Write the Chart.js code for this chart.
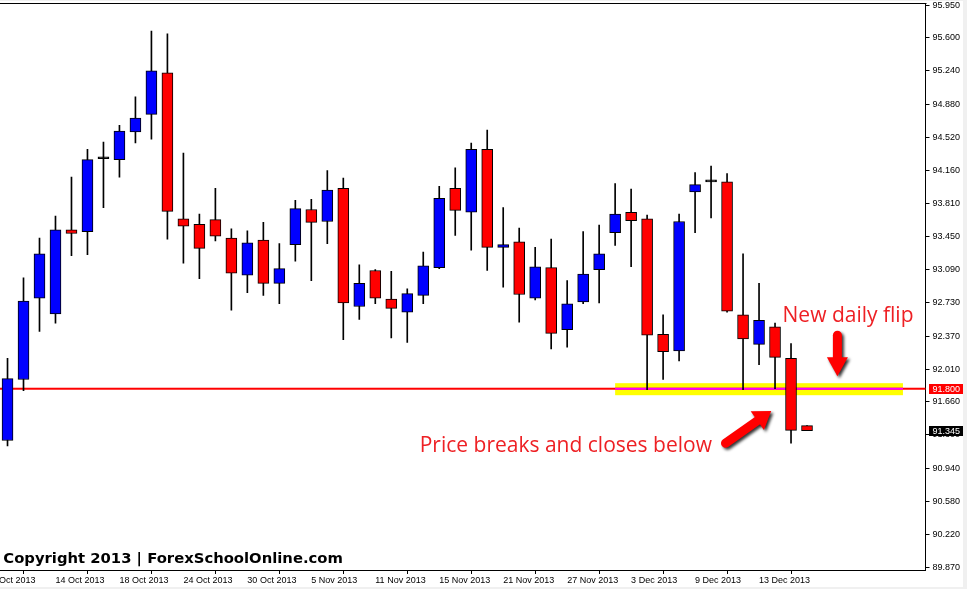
<!DOCTYPE html>
<html>
<head>
<meta charset="utf-8">
<script src="https://cdn.jsdelivr.net/npm/chart.js@4/dist/chart.umd.min.js"></script>
<style>
html,body{margin:0;padding:0;background:#fff;overflow:hidden}
canvas{display:block}
</style>
</head>
<body>
<canvas id="c" width="967" height="589"></canvas>
<script>
// ---- data ----
const dates = ['9 Oct 2013','10 Oct 2013','11 Oct 2013','14 Oct 2013','15 Oct 2013','16 Oct 2013','17 Oct 2013','18 Oct 2013','21 Oct 2013','22 Oct 2013','23 Oct 2013','24 Oct 2013','25 Oct 2013','28 Oct 2013','29 Oct 2013','30 Oct 2013','31 Oct 2013','1 Nov 2013','4 Nov 2013','5 Nov 2013','6 Nov 2013','7 Nov 2013','8 Nov 2013','11 Nov 2013','12 Nov 2013','13 Nov 2013','14 Nov 2013','15 Nov 2013','18 Nov 2013','19 Nov 2013','20 Nov 2013','21 Nov 2013','22 Nov 2013','25 Nov 2013','26 Nov 2013','27 Nov 2013','28 Nov 2013','29 Nov 2013','2 Dec 2013','3 Dec 2013','4 Dec 2013','5 Dec 2013','6 Dec 2013','9 Dec 2013','10 Dec 2013','11 Dec 2013','12 Dec 2013','13 Dec 2013','16 Dec 2013','17 Dec 2013','18 Dec 2013'];
const open  = [91.24,91.90,92.78,92.61,93.52,93.50,94.30,94.28,94.58,94.77,95.22,93.64,93.58,93.63,93.43,93.03,93.41,92.94,93.36,93.74,93.61,93.97,92.69,93.08,92.77,92.63,92.81,93.11,93.97,93.71,94.39,93.33,93.39,92.78,93.11,92.44,92.74,93.09,93.49,93.71,93.64,92.39,92.21,93.93,94.05,94.04,92.60,92.28,92.47,92.13,91.40];
const high  = [92.13,93.00,93.43,93.67,94.09,94.39,94.47,94.65,94.96,95.67,95.64,94.35,93.69,93.97,93.53,93.51,93.60,93.37,93.84,93.85,94.16,94.08,93.14,93.09,93.07,92.88,93.28,93.99,94.19,94.46,94.60,93.76,93.54,93.33,93.42,92.97,93.50,93.57,94.02,93.96,93.68,92.60,93.69,94.14,94.21,94.13,93.26,92.94,92.51,92.29,91.40];
const low   = [91.18,91.78,92.42,92.51,93.24,93.25,93.76,94.09,94.46,94.50,93.42,93.16,92.99,93.40,92.65,92.84,92.81,92.72,93.18,92.97,93.37,92.33,92.55,92.72,92.35,92.30,92.72,93.10,93.46,93.30,93.08,92.90,92.52,92.76,92.23,92.25,92.72,92.73,93.35,93.12,91.79,91.90,92.10,93.49,93.65,92.63,91.79,92.06,91.80,91.21,91.345];
const close = [91.91,92.75,93.26,93.52,93.48,94.28,94.30,94.59,94.73,95.24,93.72,93.56,93.32,93.45,93.05,93.38,92.94,93.10,93.75,93.60,93.95,92.73,92.94,92.78,92.67,92.83,93.13,93.86,93.73,94.39,93.33,93.36,92.82,93.12,92.40,92.72,93.04,93.26,93.69,93.62,92.38,92.20,93.61,94.01,94.05,92.64,92.34,92.54,92.14,91.35,91.345];
const xTickLabels = ['8 Oct 2013','14 Oct 2013','18 Oct 2013','24 Oct 2013','30 Oct 2013','5 Nov 2013','11 Nov 2013','15 Nov 2013','21 Nov 2013','27 Nov 2013','3 Dec 2013','9 Dec 2013','13 Dec 2013'];
const yTickValues = [95.950,95.600,95.240,94.880,94.520,94.160,93.810,93.450,93.090,92.730,92.370,92.010,91.660,91.300,90.940,90.580,90.220,89.870];
const levelPrice = 91.800;
const lastPrice = 91.345;

// ---- annotations (in bar / price units) ----
const zone = {fromBar: 38, toBar: 56, low: 91.73, high: 91.86};
const flipText = {bar: 48.47, price: 92.52, text: 'New daily flip'};
const breakText = {bar: 25.78, price: 91.112, text: 'Price breaks and closes below'};
const downArrow = {from: {bar: 51.9, price: 92.38}, to: {bar: 51.9, price: 91.935}};
const diagArrow = {from: {bar: 44.9, price: 91.21}, to: {bar: 47.76, price: 91.56}};
const copyright = 'Copyright 2013 | ForexSchoolOnline.com';

// ---- styles ----
const UP = '#0000ff', DOWN = '#ff0000', DOJI = '#000000';
const TXT_RED = '#ee2024';
const AXIS_FONT = {family: 'Liberation Sans', size: 9};

const xTickIdx = xTickLabels.map(l => dates.indexOf(l));   // -1 = day before first bar

function bodyRange(i) {
  const o = open[i], c = close[i];
  if (Math.abs(c - o) < 0.012) { const m = (o + c) / 2; return [m - 0.011, m + 0.011]; }
  return [o, c];
}
function bodyColor(i) {
  const d = close[i] - open[i];
  if (Math.abs(d) < 0.012) return DOJI;
  return d > 0 ? UP : DOWN;
}

const bodies = dates.map((d, i) => ({x: i, y: bodyRange(i)}));
const wicks = dates.map((d, i) => ({x: i, y: [low[i], high[i]]}));

function drawArrow(ctx, x1, y1, x2, y2, shaft, headW, headL) {
  const dx = x2 - x1, dy = y2 - y1, len = Math.hypot(dx, dy);
  const ux = dx / len, uy = dy / len, px = -uy, py = ux;
  const bx = x2 - ux * headL, by = y2 - uy * headL;
  ctx.beginPath();
  ctx.lineWidth = shaft; ctx.lineCap = 'round';
  ctx.moveTo(x1, y1); ctx.lineTo(bx + ux * 2, by + uy * 2); ctx.stroke();
  ctx.beginPath();
  ctx.moveTo(x2, y2);
  ctx.lineTo(bx + px * headW / 2, by + py * headW / 2);
  ctx.lineTo(bx - px * headW / 2, by - py * headW / 2);
  ctx.closePath(); ctx.fill();
}

const deco = {
  id: 'deco',
  beforeDraw(chart) {
    const ctx = chart.ctx, W = chart.width, H = chart.height;
    ctx.save();
    ctx.fillStyle = '#ffffff'; ctx.fillRect(0, 0, W, H);
    ctx.fillStyle = '#f0f0f0';
    ctx.fillRect(0, 0, W, 1);
    ctx.fillRect(W - 4, 0, 4, H);
    ctx.fillRect(0, H - 2, W, 2);
    ctx.restore();
  },
  beforeDatasetsDraw(chart) {
    const ctx = chart.ctx, xs = chart.scales.x, ys = chart.scales.y, a = chart.chartArea;
    ctx.save();
    const zx1 = xs.getPixelForValue(zone.fromBar), zx2 = xs.getPixelForValue(zone.toBar);
    const zy1 = ys.getPixelForValue(zone.high), zy2 = ys.getPixelForValue(zone.low);
    ctx.fillStyle = '#ffff00';
    ctx.fillRect(zx1, zy1, zx2 - zx1, zy2 - zy1);
    const ly = ys.getPixelForValue(levelPrice);
    ctx.fillStyle = '#ff0000';
    ctx.fillRect(a.left, ly - 1, a.right - a.left, 2);
    ctx.fillStyle = '#ff00ff';
    ctx.fillRect(zx1, ly - 1, zx2 - zx1, 2);
    ctx.restore();
  },
  afterDraw(chart) {
    const ctx = chart.ctx, xs = chart.scales.x, ys = chart.scales.y, a = chart.chartArea;
    ctx.save();
    // top border
    ctx.fillStyle = '#000';
    ctx.fillRect(a.left, a.top, a.right - a.left + 1, 1);
    // price boxes
    ctx.font = '9px "Liberation Sans"';
    ctx.textBaseline = 'middle'; ctx.textAlign = 'left';
    const bx = a.right + 3.5;
    const y1 = ys.getPixelForValue(levelPrice);
    ctx.fillStyle = '#ff0000'; ctx.fillRect(bx, Math.round(y1) - 5, 34, 10);
    ctx.fillStyle = '#fff'; ctx.fillText(levelPrice.toFixed(3), a.right + 7, y1 + 0.5);
    const y2 = ys.getPixelForValue(lastPrice);
    ctx.fillStyle = '#000'; ctx.fillRect(bx, Math.round(y2) - 5, 34, 10);
    ctx.fillStyle = '#fff'; ctx.fillText(lastPrice.toFixed(3), a.right + 7, y2 + 0.5);
    // annotation texts
    ctx.textBaseline = 'alphabetic';
    ctx.font = '21px "Open Sans"';
    ctx.fillStyle = TXT_RED;
    ctx.fillText(flipText.text, xs.getPixelForValue(flipText.bar), ys.getPixelForValue(flipText.price));
    ctx.fillText(breakText.text, xs.getPixelForValue(breakText.bar), ys.getPixelForValue(breakText.price));
    // arrows
    const arrows = [
      [downArrow, 9, 21, 19],
      [diagArrow, 9, 23, 17]
    ];
    arrows.forEach(([ar, sw, hw, hl]) => {
      const x1 = xs.getPixelForValue(ar.from.bar), y1a = ys.getPixelForValue(ar.from.price);
      const x2 = xs.getPixelForValue(ar.to.bar), y2a = ys.getPixelForValue(ar.to.price);
      ctx.save();
      ctx.translate(2, 2);
      ctx.filter = 'blur(1.5px)';
      ctx.globalAlpha = 0.8;
      ctx.fillStyle = '#000'; ctx.strokeStyle = '#000';
      drawArrow(ctx, x1, y1a, x2, y2a, sw, hw, hl);
      ctx.restore();
      ctx.save();
      ctx.fillStyle = '#ff0000'; ctx.strokeStyle = '#ff0000';
      drawArrow(ctx, x1, y1a, x2, y2a, sw, hw, hl);
      ctx.restore();
    });
    // copyright
    ctx.font = 'bold 14.8px "DejaVu Sans"';
    ctx.fillStyle = '#000';
    ctx.fillText(copyright, a.left + 3.3, a.bottom - 7.3);
    ctx.restore();
  }
};

new Chart(document.getElementById('c'), {
  type: 'bar',
  data: {
    datasets: [
      {
        label: 'body',
        data: bodies,
        backgroundColor: dates.map((d, i) => bodyColor(i)),
        borderColor: '#000',
        borderWidth: 1,
        borderSkipped: false,
        barThickness: 11,
        maxBarThickness: 11,
        grouped: false
      },
      {
        label: 'wick',
        data: wicks,
        backgroundColor: '#000',
        borderWidth: 0,
        barThickness: 1,
        maxBarThickness: 1,
        grouped: false
      }
    ]
  },
  options: {
    responsive: false,
    devicePixelRatio: 1,
    animation: false,
    events: [],
    layout: {padding: {top: 3, left: 0, right: 0, bottom: 0}},
    plugins: {legend: {display: false}, tooltip: {enabled: false}},
    scales: {
      x: {
        type: 'linear',
        min: -0.47,
        max: 57.41,
        bounds: 'data',
        offset: false,
        grid: {drawOnChartArea: false, drawTicks: true, tickLength: 4, color: '#000', lineWidth: 1},
        border: {display: true, color: '#000', width: 1},
        ticks: {
          autoSkip: false, align: 'start', padding: 1, maxRotation: 0, minRotation: 0,
          color: '#000', font: AXIS_FONT,
          callback: (v) => { const k = xTickIdx.indexOf(Math.round(v)); return k >= 0 ? xTickLabels[k] : ''; }
        },
        afterBuildTicks: (s) => { s.ticks = xTickIdx.map(v => ({value: v})); },
        afterFit: (s) => { s.height = 19; s.paddingLeft = 0; s.paddingRight = 0; }
      },
      y: {
        type: 'linear',
        position: 'right',
        min: 89.838,
        max: 95.975,
        bounds: 'data',
        grid: {drawOnChartArea: false, drawTicks: true, tickLength: 4, color: '#000', lineWidth: 1},
        border: {display: true, color: '#000', width: 1},
        ticks: {
          padding: 3, color: '#000', font: AXIS_FONT,
          callback: (v) => Number(v).toFixed(3)
        },
        afterBuildTicks: (s) => { s.ticks = yTickValues.map(v => ({value: v})); },
        afterFit: (s) => { s.width = 41.5; s.paddingTop = 0; s.paddingBottom = 0; }
      }
    }
  },
  plugins: [deco]
});
</script>
</body>
</html>
